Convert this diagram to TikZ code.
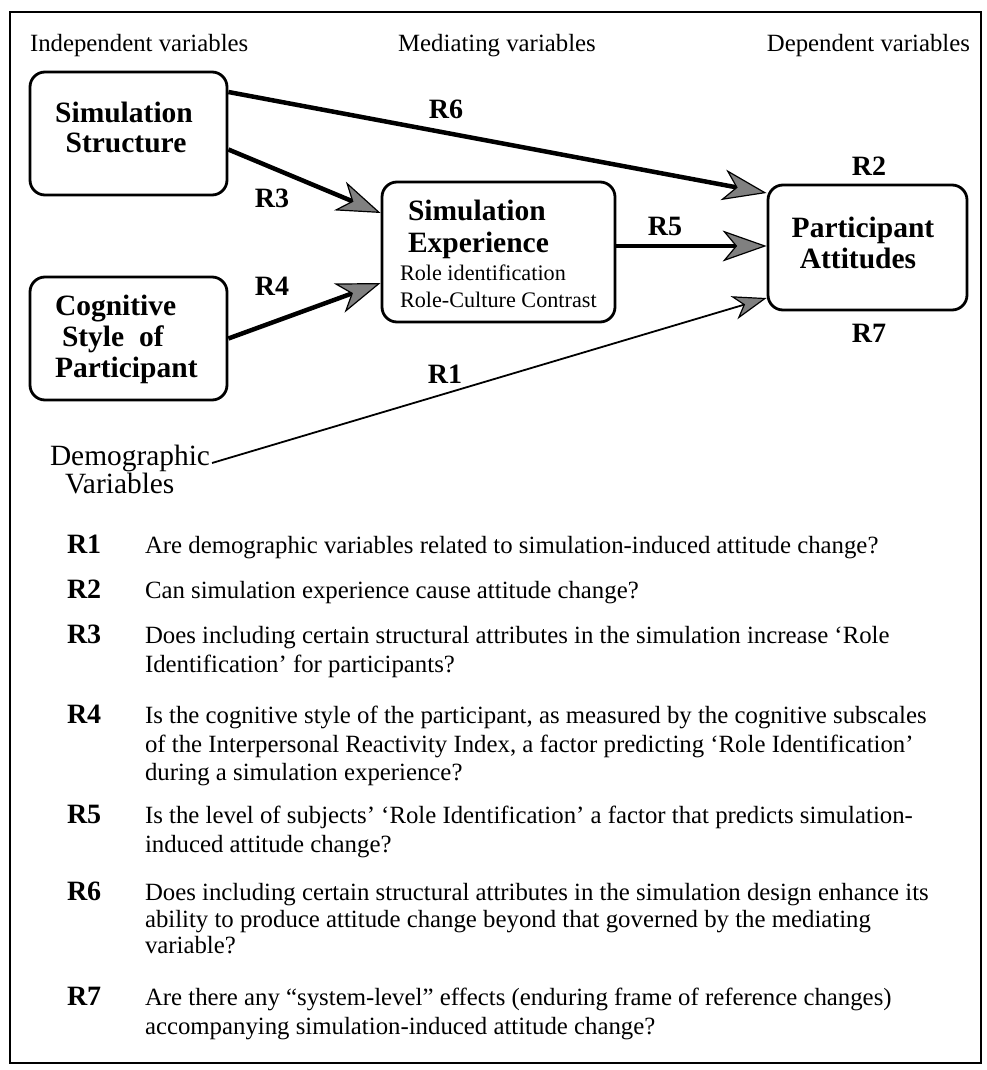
\documentclass[tikz,border=0pt]{standalone}
\usepackage{fontspec}
\setmainfont{Liberation Serif}
\usetikzlibrary{arrows.meta}
\definecolor{tipgray}{gray}{0.5}
\newcommand{\fhead}{\fontsize{24.8}{28}\selectfont}
\newcommand{\fttl}{\fontsize{29.5}{31}\selectfont\bfseries}
\newcommand{\fsmall}{\fontsize{22.2}{27}\selectfont}
\newcommand{\flab}{\fontsize{28}{30}\selectfont\bfseries}
\newcommand{\fdemo}{\fontsize{29.4}{30}\selectfont}
\begin{document}
\begin{tikzpicture}[x=1pt,y=-1pt,
  varbox/.style={draw,line width=2.8pt,rounded corners=15pt,inner sep=0pt},
  txt/.style={inner sep=0pt,outer sep=0pt},
  lab/.style={txt,anchor=base,font=\flab},
  bigtip/.tip={Stealth[length=44pt,width=31pt,inset=13pt,line width=1.2pt,fill=tipgray]},
  smalltip/.tip={Stealth[length=34pt,width=24pt,inset=10pt,line width=1.2pt,fill=tipgray]},
  thickarrow/.style={line width=4.5pt,-bigtip},
  thinarrow/.style={line width=1.8pt,-smalltip}]
\useasboundingbox (0,0) rectangle (987,1070);
% outer frame
\draw[line width=2.5pt] (10,12) rectangle (981,1063);

% column headings
\node[txt,anchor=base west,font=\fhead] (hind) at (30,52) {Independent variables};
\node[txt,anchor=base,font=\fhead] (hmed) at (497,52) {Mediating variables};
\node[txt,anchor=base east,font=\fhead] (hdep) at (970,52) {Dependent variables};

% variable boxes
\node[varbox,minimum width=197pt,minimum height=123pt] (ss) at (128.5,133.5) {};
\node[varbox,minimum width=197pt,minimum height=123pt] (cs) at (128.5,338.5) {};
\node[varbox,minimum width=233pt,minimum height=140pt] (se) at (498.5,252) {};
\node[varbox,minimum width=199pt,minimum height=125pt] (pa) at (867.5,247.5) {};

\node[txt,anchor=base,font=\fttl] (ss1) at (124,122) {Simulation};
\node[txt,anchor=base,font=\fttl] (ss2) at (126,152) {Structure};

\node[txt,anchor=base west,font=\fttl] (cs1) at (55,315) {Cognitive};
\node[txt,anchor=base west,font=\fttl] (cs2) at (62,346) {Style\ \ of};
\node[txt,anchor=base west,font=\fttl] (cs3) at (55,377) {Participant};

\node[txt,anchor=base west,font=\fttl] (se1) at (408,220) {Simulation};
\node[txt,anchor=base west,font=\fttl] (se2) at (408,252) {Experience};
\node[txt,anchor=base west,font=\fsmall] (se3) at (400,280) {Role identification};
\node[txt,anchor=base west,font=\fsmall] (se4) at (400,307) {Role-Culture Contrast};

\node[txt,anchor=base,font=\fttl] (pa1) at (863,237) {Participant};
\node[txt,anchor=base,font=\fttl] (pa2) at (858,268) {Attitudes};

\node[txt,anchor=base west,font=\fdemo] (dv1) at (50,465) {Demographic};
\node[txt,anchor=base west,font=\fdemo] (dv2) at (65,493) {Variables};

% relations
\draw[thickarrow] ([yshift=41.5pt]ss.east) -- ([yshift=54.5pt]pa.west);
\draw[thickarrow] ([yshift=-16pt]ss.east) -- ([yshift=39pt]se.west);
\draw[thickarrow] (cs.east) -- ([yshift=-31pt]se.west);
\draw[thickarrow] ([yshift=6pt]se.east) -- ([yshift=1.5pt]pa.west);
\draw[thinarrow] ([xshift=2pt,yshift=2pt]dv1.base east) -- ([yshift=-50.5pt]pa.west);

% relation labels
\node[lab] (l6) at (446,119) {R6};
\node[lab] (l3) at (272,207) {R3};
\node[lab] (l4) at (272,295) {R4};
\node[lab] (l5) at (665,235) {R5};
\node[lab] (l2) at (869,175) {R2};
\node[lab] (l7) at (869,342) {R7};
\node[lab] (l1) at (445,383) {R1};

% research questions
\foreach \n/\y in {1/553,2/598,3/643,4/723,5/823,6/900,7/1005}
  \node[txt,anchor=base west,font=\flab] (q\n) at (67,\y) {R\n};
\foreach \n/\y/\t in {
  1a/553/{Are demographic variables related to simulation-induced attitude change?},
  2a/598/{Can simulation experience cause attitude change?},
  3a/643/{Does including certain structural attributes in the simulation increase ‘Role},
  3b/672/{Identification’ for participants?},
  4a/723/{Is the cognitive style of the participant, as measured by the cognitive subscales},
  4b/752/{of the Interpersonal Reactivity Index, a factor predicting ‘Role Identification’},
  4c/780/{during a simulation experience?},
  5a/823/{Is the level of subjects’ ‘Role Identification’ a factor that predicts simulation-},
  5b/852/{induced attitude change?},
  6a/900/{Does including certain structural attributes in the simulation design enhance its},
  6b/927/{ability to produce attitude change beyond that governed by the mediating},
  6c/953/{variable?},
  7a/1005/{Are there any “system-level” effects (enduring frame of reference changes)},
  7b/1034/{accompanying simulation-induced attitude change?}}
  \node[txt,anchor=base west,font=\fhead] (t\n) at (145,\y) {\t};
\end{tikzpicture}
\end{document}
